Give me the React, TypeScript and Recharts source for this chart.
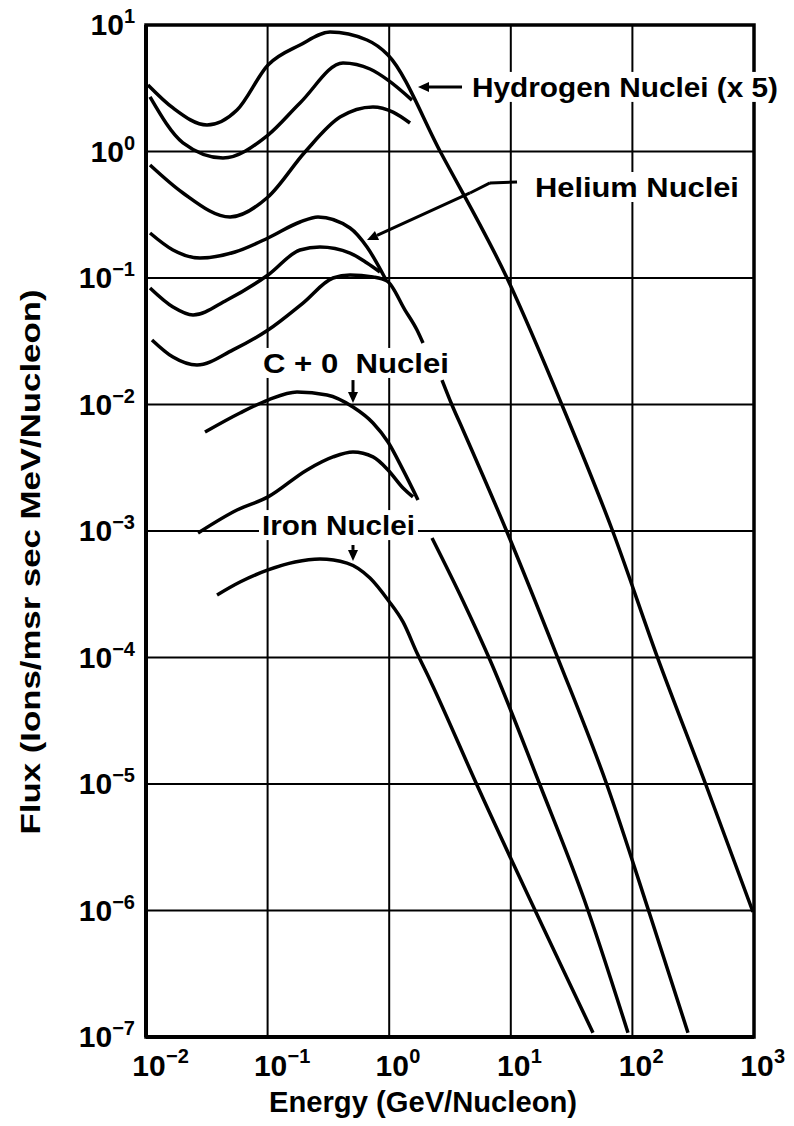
import React from 'react'
import {
  LineChart, Line, XAxis, YAxis, CartesianGrid,
  ReferenceArea, ReferenceDot, ReferenceLine,
} from 'recharts'

const FONT = '"Liberation Sans", Arial, Helvetica, sans-serif'

// axis ticks (log decades)
const energyTicks = [0.01, 0.1, 1, 10, 100, 1000]
const fluxTicks = [1e-7, 1e-6, 1e-5, 1e-4, 1e-3, 1e-2, 1e-1, 1, 10]

// [energy GeV/nucleon, flux] pairs
const hydrogenA = [
  [0.01038, 3.36], [0.01667, 2.21], [0.03175, 1.62], [0.05602, 2.13], [0.1008, 4.83],
  [0.1847, 6.95], [0.326, 8.8], [0.6568, 7.61], [0.9775, 5.79], [2.667, 0.973],
  [9.307, 0.1], [26.37, 0.00991], [69.27, 0.000982], [159.3, 1.027e-4], [402.7, 9.82e-6],
  [981, 9.73e-7],
]
const hydrogenB = [
  [0.01079, 2.7], [0.02014, 1.17], [0.04296, 0.888], [0.1008, 1.35], [0.1847, 2.42],
  [0.417, 5.01], [0.6952, 4.49], [0.9775, 3.67], [1.54, 2.55],
]
const hydrogenC = [
  [0.01079, 0.782], [0.02014, 0.47], [0.04909, 0.3035], [0.1008, 0.437], [0.203, 0.991],
  [0.3939, 1.87], [0.7358, 2.25], [1.075, 2.05], [1.483, 1.68],
]
const heliumA = [
  [0.01079, 0.2268], [0.01667, 0.1665], [0.0278, 0.1439], [0.05394, 0.1605], [0.1008, 0.2071],
  [0.1847, 0.2771], [0.2597, 0.3035], [0.4762, 0.2484], [0.6568, 0.1758], [0.9238, 0.1],
]
const heliumB = [
  [0.01079, 0.0834], [0.01667, 0.059], [0.02436, 0.051], [0.04636, 0.067], [0.1008, 0.1056],
  [0.1847, 0.1665], [0.2697, 0.1758], [0.4762, 0.1576], [0.6568, 0.1314], [0.8398, 0.1115],
]
const heliumC = [
  [0.0112, 0.0324], [0.01667, 0.0237], [0.02626, 0.0205], [0.05194, 0.027], [0.1008, 0.0388],
  [0.1954, 0.0634], [0.345, 0.1], [0.4762, 0.1056], [0.7358, 0.1018], [0.9592, 0.0947],
  [1.349, 0.0558], [1.693, 0.0388], [1.897, 0.0306],
]
const heliumTail = [
  [2.718, 0.0156], [3.283, 0.00991], [4.045, 0.00629], [9.307, 0.000982], [23.99, 1.027e-4],
  [61.8, 9.82e-6], [139.6, 9.21e-7], [286.6, 1.08e-7],
]
const carbonOxygenA = [
  [0.03055, 0.00606], [0.05929, 0.00857], [0.1008, 0.01085], [0.1745, 0.01256], [0.308, 0.01189],
  [0.5038, 0.00955], [0.7358, 0.00714], [0.9775, 0.00505], [1.299, 0.00304], [1.725, 0.00176],
]
const carbonOxygenB = [
  [0.02677, 0.000964], [0.05602, 0.001466], [0.1008, 0.00186], [0.2109, 0.00304], [0.345, 0.00385],
  [0.5038, 0.00421], [0.7358, 0.00385], [0.9775, 0.00304], [1.299, 0.00219], [1.57, 0.00186],
]
const carbonOxygenTail = [
  [2.249, 0.000881], [4.045, 0.00028], [6.745, 9.55e-5], [17.38, 9.82e-6], [40.0, 1.233e-6],
  [92.0, 1.08e-7],
]
const iron = [
  [0.03837, 0.000312], [0.05929, 0.000395], [0.1008, 0.000492], [0.168, 0.000569], [0.2697, 0.000601],
  [0.4498, 0.000558], [0.6952, 0.000425], [0.9775, 0.000285], [1.299, 0.000191], [1.693, 1.085e-4],
  [2.165, 6.64e-5], [5.272, 9.82e-6], [47.43, 1.08e-7],
]

const curves = [
  hydrogenA, hydrogenB, hydrogenC,
  heliumA, heliumB, heliumC, heliumTail,
  carbonOxygenA, carbonOxygenB, carbonOxygenTail,
  iron,
].map(rows => rows.map(([x, y]) => ({ x, y })))

// annotation labels, anchored in data coordinates (left edge, vertical centre)
const tags = [
  { text: 'Hydrogen Nuclei (x 5)', x: 4.8, y: 3.24, w: 306 },
  { text: 'Helium Nuclei', x: 15.8, y: 0.524, w: 204 },
  { text: 'C + 0  Nuclei', x: 0.0916, y: 0.0213, w: 186 },
  { text: 'Iron Nuclei', x: 0.0899, y: 0.001114, w: 153 },
]

// pointer segments, arrow head at second point when head is true
const pointers = [
  { from: { x: 3.97, y: 3.24 }, to: { x: 1.725, y: 3.24 }, head: true },
  { from: { x: 11.25, y: 0.574 }, to: { x: 6.745, y: 0.564 }, head: false },
  { from: { x: 6.745, y: 0.564 }, to: { x: 4.62, y: 0.47 }, head: false },
  { from: { x: 4.62, y: 0.47 }, to: { x: 0.657, y: 0.1997 }, head: true },
  { from: { x: 0.5038, y: 0.0156 }, to: { x: 0.5038, y: 0.01028 }, head: true },
  { from: { x: 0.5038, y: 0.000775 }, to: { x: 0.5038, y: 0.00058 }, head: true },
]

const supText = (v: number) => {
  const e = Math.round(Math.log10(v))
  return e < 0 ? `\u2212${-e}` : `${e}`
}

function XTick({ x, y, payload }: any) {
  return (
    <g fontFamily={FONT} fontWeight="bold">
      <text x={x + 3} y={y + 39} textAnchor="middle" fontSize={30} fill="#000">10</text>
      <text x={x + 20} y={y + 26} fontSize={20} fill="#000">{supText(payload.value)}</text>
    </g>
  )
}

function YTick({ x, y, payload }: any) {
  return (
    <text x={x - 11} y={y + 10} textAnchor="end" fontFamily={FONT} fontWeight="bold" fill="#000">
      <tspan fontSize={30}>10</tspan>
      <tspan fontSize={20} dy={-12}>{supText(payload.value)}</tspan>
    </text>
  )
}

function XTitle({ viewBox }: any) {
  const { x, y } = viewBox
  return (
    <text x={x + 277} y={y + 75} textAnchor="middle" fontFamily={FONT} fontWeight="bold"
      fontSize={30} textLength={308} lengthAdjust="spacingAndGlyphs" fill="#000">
      Energy (GeV/Nucleon)
    </text>
  )
}

function YTitle({ viewBox }: any) {
  const cx = viewBox.x + 30
  const cy = viewBox.y + 537
  return (
    <text x={cx} y={cy + 10} transform={`rotate(-90 ${cx} ${cy})`} textAnchor="middle"
      fontFamily={FONT} fontWeight="bold" fontSize={28} textLength={545}
      lengthAdjust="spacingAndGlyphs" fill="#000">
      Flux (Ions/msr sec MeV/Nucleon)
    </text>
  )
}

function Tag({ cx, cy, text, w }: any) {
  return (
    <g>
      <rect x={cx - 3} y={cy - 15} width={w + 6} height={30} fill="#fff" />
      <text x={cx} y={cy + 10} fontFamily={FONT} fontWeight="bold" fontSize={28} fill="#000"
        textLength={w} lengthAdjust="spacingAndGlyphs" style={{ whiteSpace: 'pre' }}>
        {text}
      </text>
    </g>
  )
}

function Pointer({ x1, y1, x2, y2, head }: any) {
  const ang = Math.atan2(y2 - y1, x2 - x1)
  const L = 11
  const W = 5
  const bx = x2 - L * Math.cos(ang)
  const by = y2 - L * Math.sin(ang)
  const px = -Math.sin(ang) * W
  const py = Math.cos(ang) * W
  return (
    <g>
      <line x1={x1} y1={y1} x2={head ? bx : x2} y2={head ? by : y2} stroke="#000" strokeWidth={3} />
      {head && (
        <polygon points={`${x2},${y2} ${bx + px},${by + py} ${bx - px},${by - py}`} fill="#000" />
      )}
    </g>
  )
}

export default function App() {
  return (
    <div style={{ position: 'absolute', left: 0, top: 0, width: 794, height: 1126, background: '#fff' }}>
      <LineChart width={794} height={1126} margin={{ top: 25, right: 40, bottom: 0, left: 0 }}>
        <CartesianGrid stroke="#000" strokeWidth={2} />
        <XAxis
          type="number" dataKey="x" scale="log" domain={[0.01, 1000]} ticks={energyTicks}
          allowDataOverflow interval={0} height={89} tickSize={0} tickMargin={0} tickLine={false}
          axisLine={{ stroke: '#000', strokeWidth: 4 }} tick={<XTick />} label={<XTitle />}
        />
        <YAxis
          type="number" scale="log" domain={[1e-7, 10]} ticks={fluxTicks}
          allowDataOverflow interval={0} width={146} tickSize={0} tickMargin={0} tickLine={false}
          axisLine={{ stroke: '#000', strokeWidth: 4 }} tick={<YTick />} label={<YTitle />}
        />
        <ReferenceArea x1={0.01} x2={1000} y1={1e-7} y2={10} fill="none" stroke="#000" strokeWidth={3.5} />
        {tags.map(t => (
          <ReferenceDot key={t.text} x={t.x} y={t.y} r={0}
            shape={(p: any) => <Tag cx={p.cx} cy={p.cy} text={t.text} w={t.w} />} />
        ))}
        {pointers.map((p, i) => (
          <ReferenceLine key={i} segment={[p.from, p.to]}
            shape={(s: any) => <Pointer x1={s.x1} y1={s.y1} x2={s.x2} y2={s.y2} head={p.head} />} />
        ))}
        {curves.map((d, i) => (
          <Line key={i} data={d} dataKey="y" type="monotone" stroke="#000" strokeWidth={3.5}
            dot={false} activeDot={false} isAnimationActive={false} />
        ))}
      </LineChart>
    </div>
  )
}
